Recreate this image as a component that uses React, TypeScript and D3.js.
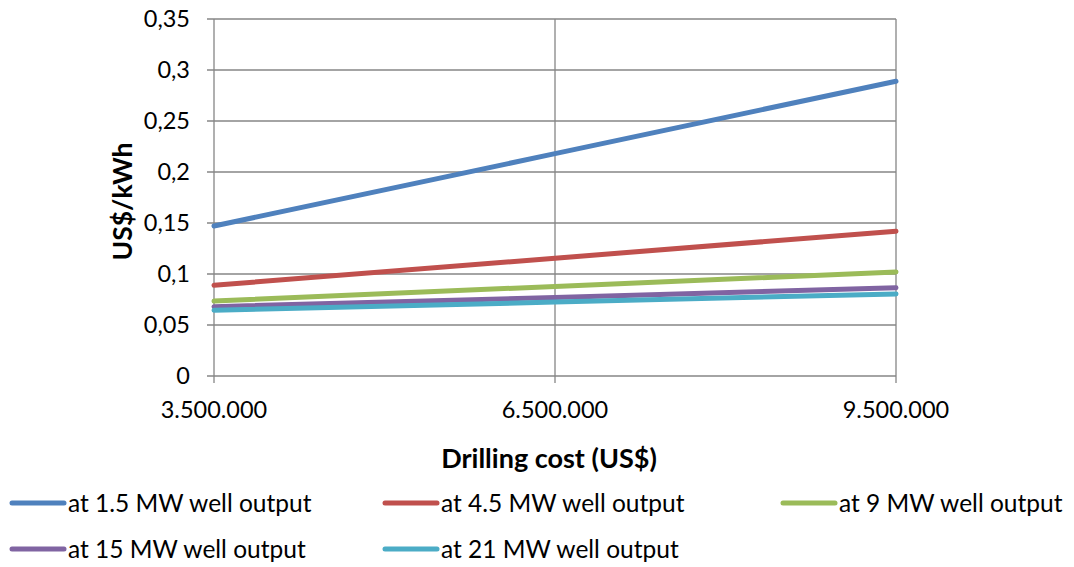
import React from 'react';
import * as d3 from 'd3';

const costs = ['3.500.000', '6.500.000', '9.500.000'];
const seriesNames = [
  'at 1.5 MW well output',
  'at 4.5 MW well output',
  'at 9 MW well output',
  'at 15 MW well output',
  'at 21 MW well output',
];
const mw15 = [0.147, 0.218, 0.289];
const mw45 = [0.089, 0.1155, 0.142];
const mw9 = [0.0735, 0.0878, 0.102];
const mw15b = [0.068, 0.077, 0.0865];
const mw21 = [0.0645, 0.0725, 0.0805];
const yTicks = [0, 0.05, 0.1, 0.15, 0.2, 0.25, 0.3, 0.35];
const colors = ['#4F81BD', '#C0504D', '#9BBB59', '#8064A2', '#4BACC6'];

const width = 1074;
const height = 567;
const font = 'Lato, "Open Sans", sans-serif';
const grid = '#868686';

export default function App() {
  const allSeries = [mw15, mw45, mw9, mw15b, mw21];

  const x = d3.scalePoint<string>().domain(costs).range([214, 896]);
  const y = d3.scaleLinear().domain([0, 0.35]).range([376, 19]);

  const line = d3
    .line<number>()
    .x((_, i) => x(costs[i]) as number)
    .y(d => y(d));

  const fmt = (v: number) => String(+v.toFixed(2)).replace('.', ',');

  // legend positions: 3 columns, 2 rows
  const legendCols = [12, 385, 783];
  const legendRows = [503, 549];

  return (
    <svg
      width={width}
      height={height}
      style={{ position: 'absolute', left: 0, top: 0, background: '#fff' }}
      fontFamily={font}
    >
      {/* horizontal gridlines + y ticks */}
      {yTicks.map(t => (
        <g key={t}>
          <line x1={207} x2={896} y1={y(t)} y2={y(t)} stroke={grid} strokeWidth={1.3} />
          <text x={190} y={y(t)} dy="0.35em" textAnchor="end" fontSize={23.5} fill="#000">
            {fmt(t)}
          </text>
        </g>
      ))}

      {/* vertical gridlines / axis */}
      {costs.map(c => (
        <g key={c}>
          <line x1={x(c)} x2={x(c)} y1={19} y2={383} stroke={grid} strokeWidth={1.3} />
          <text x={x(c)} y={418} textAnchor="middle" fontSize={23.5} fill="#000">
            {c}
          </text>
        </g>
      ))}

      {/* series */}
      {allSeries.map((s, i) => (
        <path
          key={i}
          d={line(s) || ''}
          fill="none"
          stroke={colors[i]}
          strokeWidth={5}
          strokeLinecap="round"
        />
      ))}

      {/* axis titles */}
      <text
        transform={`translate(132, ${(19 + 376) / 2 + 4}) rotate(-90)`}
        textAnchor="middle"
        fontSize={26.5}
        fontWeight="bold"
        fill="#000"
      >
        US$/kWh
      </text>
      <text x={549} y={468} textAnchor="middle" fontSize={27} fontWeight="bold" fill="#000">
        Drilling cost (US$)
      </text>

      {/* legend */}
      {seriesNames.map((name, i) => {
        const lx = legendCols[i % 3];
        const ly = legendRows[Math.floor(i / 3)];
        return (
          <g key={name}>
            <line
              x1={lx}
              x2={lx + 52}
              y1={ly}
              y2={ly}
              stroke={colors[i]}
              strokeWidth={5}
              strokeLinecap="round"
            />
            <text x={lx + 56} y={ly} dy="0.35em" fontSize={24.5} fill="#000">
              {name}
            </text>
          </g>
        );
      })}
    </svg>
  );
}
